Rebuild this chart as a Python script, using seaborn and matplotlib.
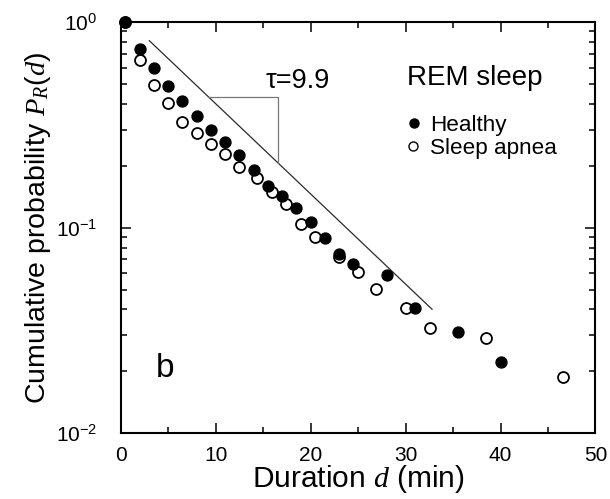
import numpy as np
import pandas as pd
import matplotlib
matplotlib.use("Agg")
import matplotlib.pyplot as plt
from matplotlib.ticker import LogLocator, MultipleLocator, NullFormatter
import seaborn as sns

# Cumulative distribution of REM-sleep durations
healthy_d = [0.5, 2, 3.5, 5, 6.5, 8, 9.5, 11, 12.5, 14, 15.5, 17, 18.5, 20,
             21.5, 23, 24.5, 28, 31, 35.5, 40]
healthy_p = [1.0, 0.74, 0.595, 0.49, 0.413, 0.349, 0.297, 0.262, 0.225, 0.191,
             0.159, 0.142, 0.125, 0.106, 0.0887, 0.0748, 0.0669, 0.0587,
             0.0405, 0.0312, 0.0221]

apnea_d = [0.5, 2, 3.5, 5, 6.5, 8, 9.5, 11, 12.5, 14.4, 15.9, 17.4, 19,
           20.5, 23, 25, 26.9, 30, 32.6, 38.5, 46.6]
apnea_p = [1.0, 0.653, 0.492, 0.404, 0.325, 0.288, 0.256, 0.228, 0.197, 0.174,
           0.149, 0.130, 0.104, 0.090, 0.072, 0.061, 0.0505, 0.0407, 0.0326,
           0.029, 0.0188]

# Exponential guide line P = A exp(-d / tau)
tau = 9.9
fit_amp = 1.1
fit_range = [3.0, 32.8]
slope_level = 0.433
slope_right = 16.6

group_title = "REM sleep"
group_labels = ["Healthy", "Sleep apnea"]

sns.set_style("ticks")
plt.rcParams["font.family"] = ["Liberation Sans", "DejaVu Sans"]
plt.rcParams["mathtext.fontset"] = "custom"
plt.rcParams["mathtext.rm"] = "Liberation Sans"
plt.rcParams["mathtext.it"] = "Liberation Serif:italic"
plt.rcParams["mathtext.bf"] = "Liberation Sans:bold"
for key in ["text.color", "axes.labelcolor", "xtick.color", "ytick.color",
            "axes.edgecolor"]:
    plt.rcParams[key] = "black"

fig = plt.figure(figsize=(6.1, 4.99), dpi=100)
ax = fig.add_axes([0.1979, 0.1317, 0.7783, 0.8242])

healthy = pd.DataFrame({"d": healthy_d, "p": healthy_p})
apnea = pd.DataFrame({"d": apnea_d, "p": apnea_p})

sns.scatterplot(data=apnea, x="d", y="p", ax=ax, marker="o", s=62,
                facecolor="white", edgecolor="black", linewidth=1.3,
                zorder=3, legend=False, clip_on=False)
sns.scatterplot(data=healthy, x="d", y="p", ax=ax, marker="o", s=62,
                color="black", edgecolor="black", linewidth=1.0,
                zorder=4, legend=False, clip_on=False)

fit_d = np.linspace(fit_range[0], fit_range[1], 50)
fit = pd.DataFrame({"d": fit_d, "p": fit_amp * np.exp(-fit_d / tau)})
sns.lineplot(data=fit, x="d", y="p", ax=ax, color="#2a2a2a", linewidth=0.9,
             zorder=2)

# slope triangle
left_d = tau * np.log(fit_amp / slope_level)
bottom_p = fit_amp * np.exp(-slope_right / tau)
ax.plot([left_d, slope_right, slope_right], [slope_level, slope_level, bottom_p],
        color="#777777", linewidth=0.9, zorder=2)
ax.text(15.25, 0.476, f"τ={tau}", fontsize=19.5, ha="left", va="baseline")

ax.text(4.66, 0.0188, "b", fontsize=24, ha="center", va="baseline")

# key: group title with one marker per series
tr = ax.transAxes
ax.text(0.603, 0.847, group_title, transform=tr, fontsize=20,
        ha="left", va="baseline")
ax.plot([0.6175], [0.755], transform=tr, marker="o", markersize=6.5,
        markerfacecolor="black", markeredgecolor="black", linestyle="none",
        clip_on=False)
ax.plot([0.6165], [0.699], transform=tr, marker="o", markersize=6.5,
        markerfacecolor="white", markeredgecolor="black", markeredgewidth=1.0,
        linestyle="none", clip_on=False)
ax.text(0.651, 0.736, group_labels[0], transform=tr, fontsize=16.2,
        ha="left", va="baseline")
ax.text(0.651, 0.680, group_labels[1], transform=tr, fontsize=16.2,
        ha="left", va="baseline")

ax.set_yscale("log")
ax.set_xlim(0, 50)
ax.set_ylim(0.01, 1)
ax.xaxis.set_major_locator(MultipleLocator(10))
ax.xaxis.set_minor_locator(MultipleLocator(5))
ax.yaxis.set_major_locator(LogLocator(base=10))
ax.yaxis.set_minor_locator(LogLocator(base=10, subs=np.arange(2, 10)))
ax.yaxis.set_minor_formatter(NullFormatter())

ax.tick_params(which="both", direction="in", top=True, right=True,
               width=1.1, colors="black")
ax.tick_params(which="major", length=7)
ax.tick_params(which="minor", length=4.5)
ax.tick_params(axis="x", which="major", labelsize=15, pad=9)
ax.tick_params(axis="y", which="major", labelsize=15, pad=17)
for side in ax.spines.values():
    side.set_linewidth(1.5)
    side.set_color("black")

ax.set_xlabel(r"Duration $\mathit{d}$ (min)", fontsize=21.5, labelpad=-1)
ax.set_ylabel(r"Cumulative probability $\mathit{P_R(d)}$", fontsize=20.5,
              labelpad=2)

fig.savefig("out.png", dpi=100)
